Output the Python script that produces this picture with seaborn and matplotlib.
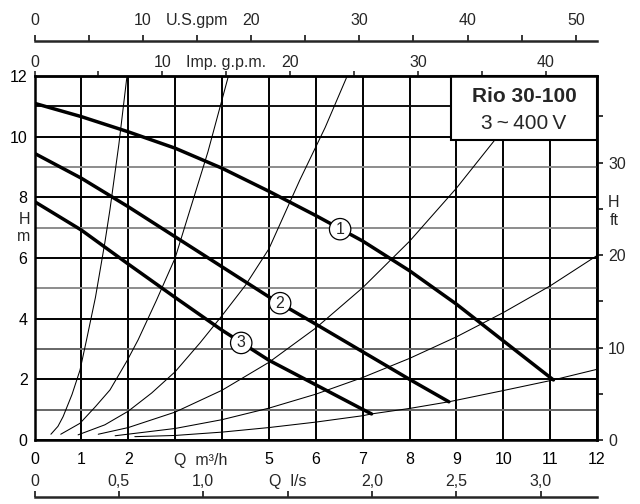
import matplotlib
matplotlib.use("Agg")
import matplotlib.pyplot as plt
import matplotlib.transforms as mtrans
from matplotlib.patches import Rectangle
import seaborn as sns

# ---------------- data ----------------
# pump curves: Q [m3/h], H [m]
q1 = [0, 1, 2, 3, 4, 5, 6, 7, 8, 9, 10, 11.07]
h1 = [11.1, 10.66, 10.16, 9.62, 8.96, 8.2, 7.4, 6.56, 5.58, 4.48, 3.27, 1.98]
q2 = [0, 1, 2, 3, 4, 5, 6, 7, 8, 8.84]
h2 = [9.45, 8.63, 7.69, 6.7, 5.71, 4.72, 3.82, 2.91, 2.0, 1.26]
q3 = [0, 1, 2, 3, 4, 5, 6, 7, 7.19]
h3 = [7.86, 6.92, 5.8, 4.7, 3.62, 2.63, 1.82, 1.01, 0.86]
curve_labels = ["1", "2", "3"]
label_q = [6.52, 5.24, 4.41]
label_h = [6.95, 4.51, 3.2]

# thin system curves
sa_q = [0.35, 0.5, 0.61, 0.8, 0.97, 1.11, 1.3, 1.5, 1.61, 1.8, 1.97]
sa_h = [0.19, 0.45, 0.77, 1.5, 2.3, 3.3, 4.7, 6.5, 7.6, 9.75, 11.96]
sb_q = [0.56, 0.97, 1.3, 1.61, 1.97, 2.21, 2.6, 3.0, 3.32, 3.7, 4.13]
sb_h = [0.19, 0.55, 1.1, 1.65, 2.6, 3.3, 4.6, 6.0, 7.6, 9.5, 11.96]
sc_q = [0.93, 1.5, 2.0, 2.5, 3.0, 3.53, 4.0, 4.5, 5.0, 5.66, 6.2, 6.66]
sc_h = [0.17, 0.5, 0.95, 1.55, 2.25, 3.2, 4.1, 5.1, 6.3, 8.57, 10.3, 11.96]
sd_q = [1.36, 2, 3, 4, 5, 6, 7, 8, 9, 10, 10.8]
sd_h = [0.19, 0.41, 0.92, 1.64, 2.56, 3.69, 5.02, 6.55, 8.3, 10.24, 11.95]
se_q = [1.72, 3, 4, 5, 6, 7, 8, 9, 10, 11, 12]
se_h = [0.14, 0.38, 0.67, 1.05, 1.51, 2.06, 2.69, 3.4, 4.2, 5.08, 6.08]
sf_q = [2.14, 3, 4, 5, 6, 7, 7.19, 8, 8.84, 10, 11.07, 12]
sf_h = [0.11, 0.15, 0.26, 0.41, 0.59, 0.8, 0.86, 1.04, 1.26, 1.63, 1.98, 2.33]

# axis ticks / labels
q_ticks = list(range(0, 13))
q_labels = ["0", "1", "2", "", "", "5", "6", "7", "8", "9", "10", "11", "12"]
h_ticks = [0, 2, 4, 6, 8, 10, 12]
h_minor = [1, 3, 5, 7, 9, 11]
h_minor_colors = ["#666666", "#666666", "#8c8c8c", "#8c8c8c", "#8c8c8c", "#111111"]
us_ticks = [0, 5, 10, 15, 20, 25, 30, 35, 40, 45, 50]
us_labels = ["0", "", "10", "U.S.gpm", "20", "", "30", "", "40", "", "50"]
imp_ticks = [0, 5, 10, 15, 20, 25, 30, 35, 40]
imp_labels = ["0", "", "10", "Imp. g.p.m.", "20", "", "30", "", "40"]
ls_ticks = [0, 0.5, 1.0, 1.5, 2.0, 2.5, 3.0]
ls_labels = ["0", "0,5", "1,0", "Q  l/s", "2,0", "2,5", "3,0"]
ft_ticks = [0, 5, 10, 15, 20, 25, 30, 35]
ft_labels = ["0", "", "10", "", "20", "H\nft", "30", ""]
US_PER_M3H = 4.33
IMP_PER_M3H = 3.666
M3H_PER_LS = 3.6
FT_PER_M = 3.2808

# ---------------- figure ----------------
sns.set_theme(style="white")
plt.rcParams["font.family"] = ["Liberation Sans", "DejaVu Sans"]
FS = 11.5
plt.rcParams["font.size"] = FS

fig = plt.figure(figsize=(6.4, 5.04), dpi=100)
W, H = 640, 504
x0, x1, y0, y1 = 34.5, 597, 440, 76
ax = fig.add_axes([x0 / W, 1 - y0 / H, (x1 - x0) / W, (y0 - y1) / H])
ax.set_xlim(0, 12)
ax.set_ylim(0, 12)

# grid
ax.set_xticks(q_ticks)
ax.set_xticklabels(q_labels)
ax.set_yticks(h_ticks)
ax.grid(which="major", axis="both", color="black", lw=1.4, zorder=1)
for hv, hc in zip(h_minor, h_minor_colors):
    ax.axhline(hv, color=hc, lw=1.4, zorder=1)
ax.set_axisbelow(True)
ax.tick_params(axis="both", which="both", length=0, labelsize=FS, colors="black")
ax.tick_params(axis="x", pad=9)
ax.tick_params(axis="y", pad=5)
for s in ax.spines.values():
    s.set_linewidth(1.8)
    s.set_color("black")
    s.set_visible(True)
    s.set_zorder(9)

# system curves
for qs, hs in [(sa_q, sa_h), (sb_q, sb_h), (sc_q, sc_h), (sd_q, sd_h), (se_q, se_h), (sf_q, sf_h)]:
    sns.lineplot(x=qs, y=hs, ax=ax, color="black", lw=0.75, sort=False, estimator=None, zorder=3)

# pump curves
for qs, hs in [(q1, h1), (q2, h2), (q3, h3)]:
    sns.lineplot(x=qs, y=hs, ax=ax, color="black", lw=2.5, sort=False, estimator=None, zorder=4)

for lab, lq, lh in zip(curve_labels, label_q, label_h):
    ax.text(lq, lh, lab, ha="center", va="center", fontsize=FS, zorder=6,
            bbox=dict(boxstyle="circle,pad=0.2", fc="white", ec="black", lw=0.9))

# title box
ax.add_patch(Rectangle((8.88, 9.9), 3.12, 2.1, fc="white", ec="black", lw=1.5, zorder=7, clip_on=False))
ax.text(10.44, 11.32, "Rio 30-100", ha="center", va="center", fontsize=15, fontweight="bold", zorder=8)
ax.text(10.44, 10.45, "3\u2009~\u2009400\u2009V", ha="center", va="center", fontsize=15, zorder=8)

# axis name texts
blend_x = mtrans.blended_transform_factory(ax.transData, ax.transAxes)
blend_y = mtrans.blended_transform_factory(ax.transAxes, ax.transData)
ax.text(3.55, -20 / 364, "Q  m\u00b3/h", transform=blend_x, ha="center", va="center", fontsize=FS)
ax.text(-10.5 / 562.5, 7, "H\nm", transform=blend_y, ha="center", va="center", fontsize=FS, linespacing=1.15)

# U.S. gpm scale
us = ax.secondary_xaxis(1 + 35 / 364, functions=(lambda q: q * US_PER_M3H, lambda g: g / US_PER_M3H))
us.set_xticks(us_ticks)
us.set_xticklabels(us_labels)
us.tick_params(direction="out", length=4, width=1.3, pad=5, labelsize=FS)
us.spines["top"].set_linewidth(1.8)

# Imp gpm scale
imp = ax.secondary_xaxis("top", functions=(lambda q: q * IMP_PER_M3H, lambda g: g / IMP_PER_M3H))
imp.set_xticks(imp_ticks)
imp.set_xticklabels(imp_labels)
imp.tick_params(direction="out", length=3.5, width=1.2, pad=0.5, labelsize=FS)
imp.spines["top"].set_linewidth(1.8)

# l/s scale
ls = ax.secondary_xaxis(-57 / 364, functions=(lambda q: q / M3H_PER_LS, lambda l: l * M3H_PER_LS))
ls.set_alignment("top")
ls.set_xticks(ls_ticks)
ls.set_xticklabels(ls_labels)
ls.tick_params(direction="out", length=4, width=1.3, pad=2, labelsize=FS)
ls.spines["top"].set_linewidth(1.8)

# ft scale
ft = ax.secondary_yaxis("right", functions=(lambda h: h * FT_PER_M, lambda f: f / FT_PER_M))
ft.set_yticks(ft_ticks)
ft.set_yticklabels(ft_labels)
ft.tick_params(direction="out", length=4, width=1.3, pad=4, labelsize=FS)
for t in ft.get_yticklabels():
    t.set_multialignment("center")
ft.spines["right"].set_linewidth(1.8)

fig.savefig("out.png", dpi=100, facecolor="white")
